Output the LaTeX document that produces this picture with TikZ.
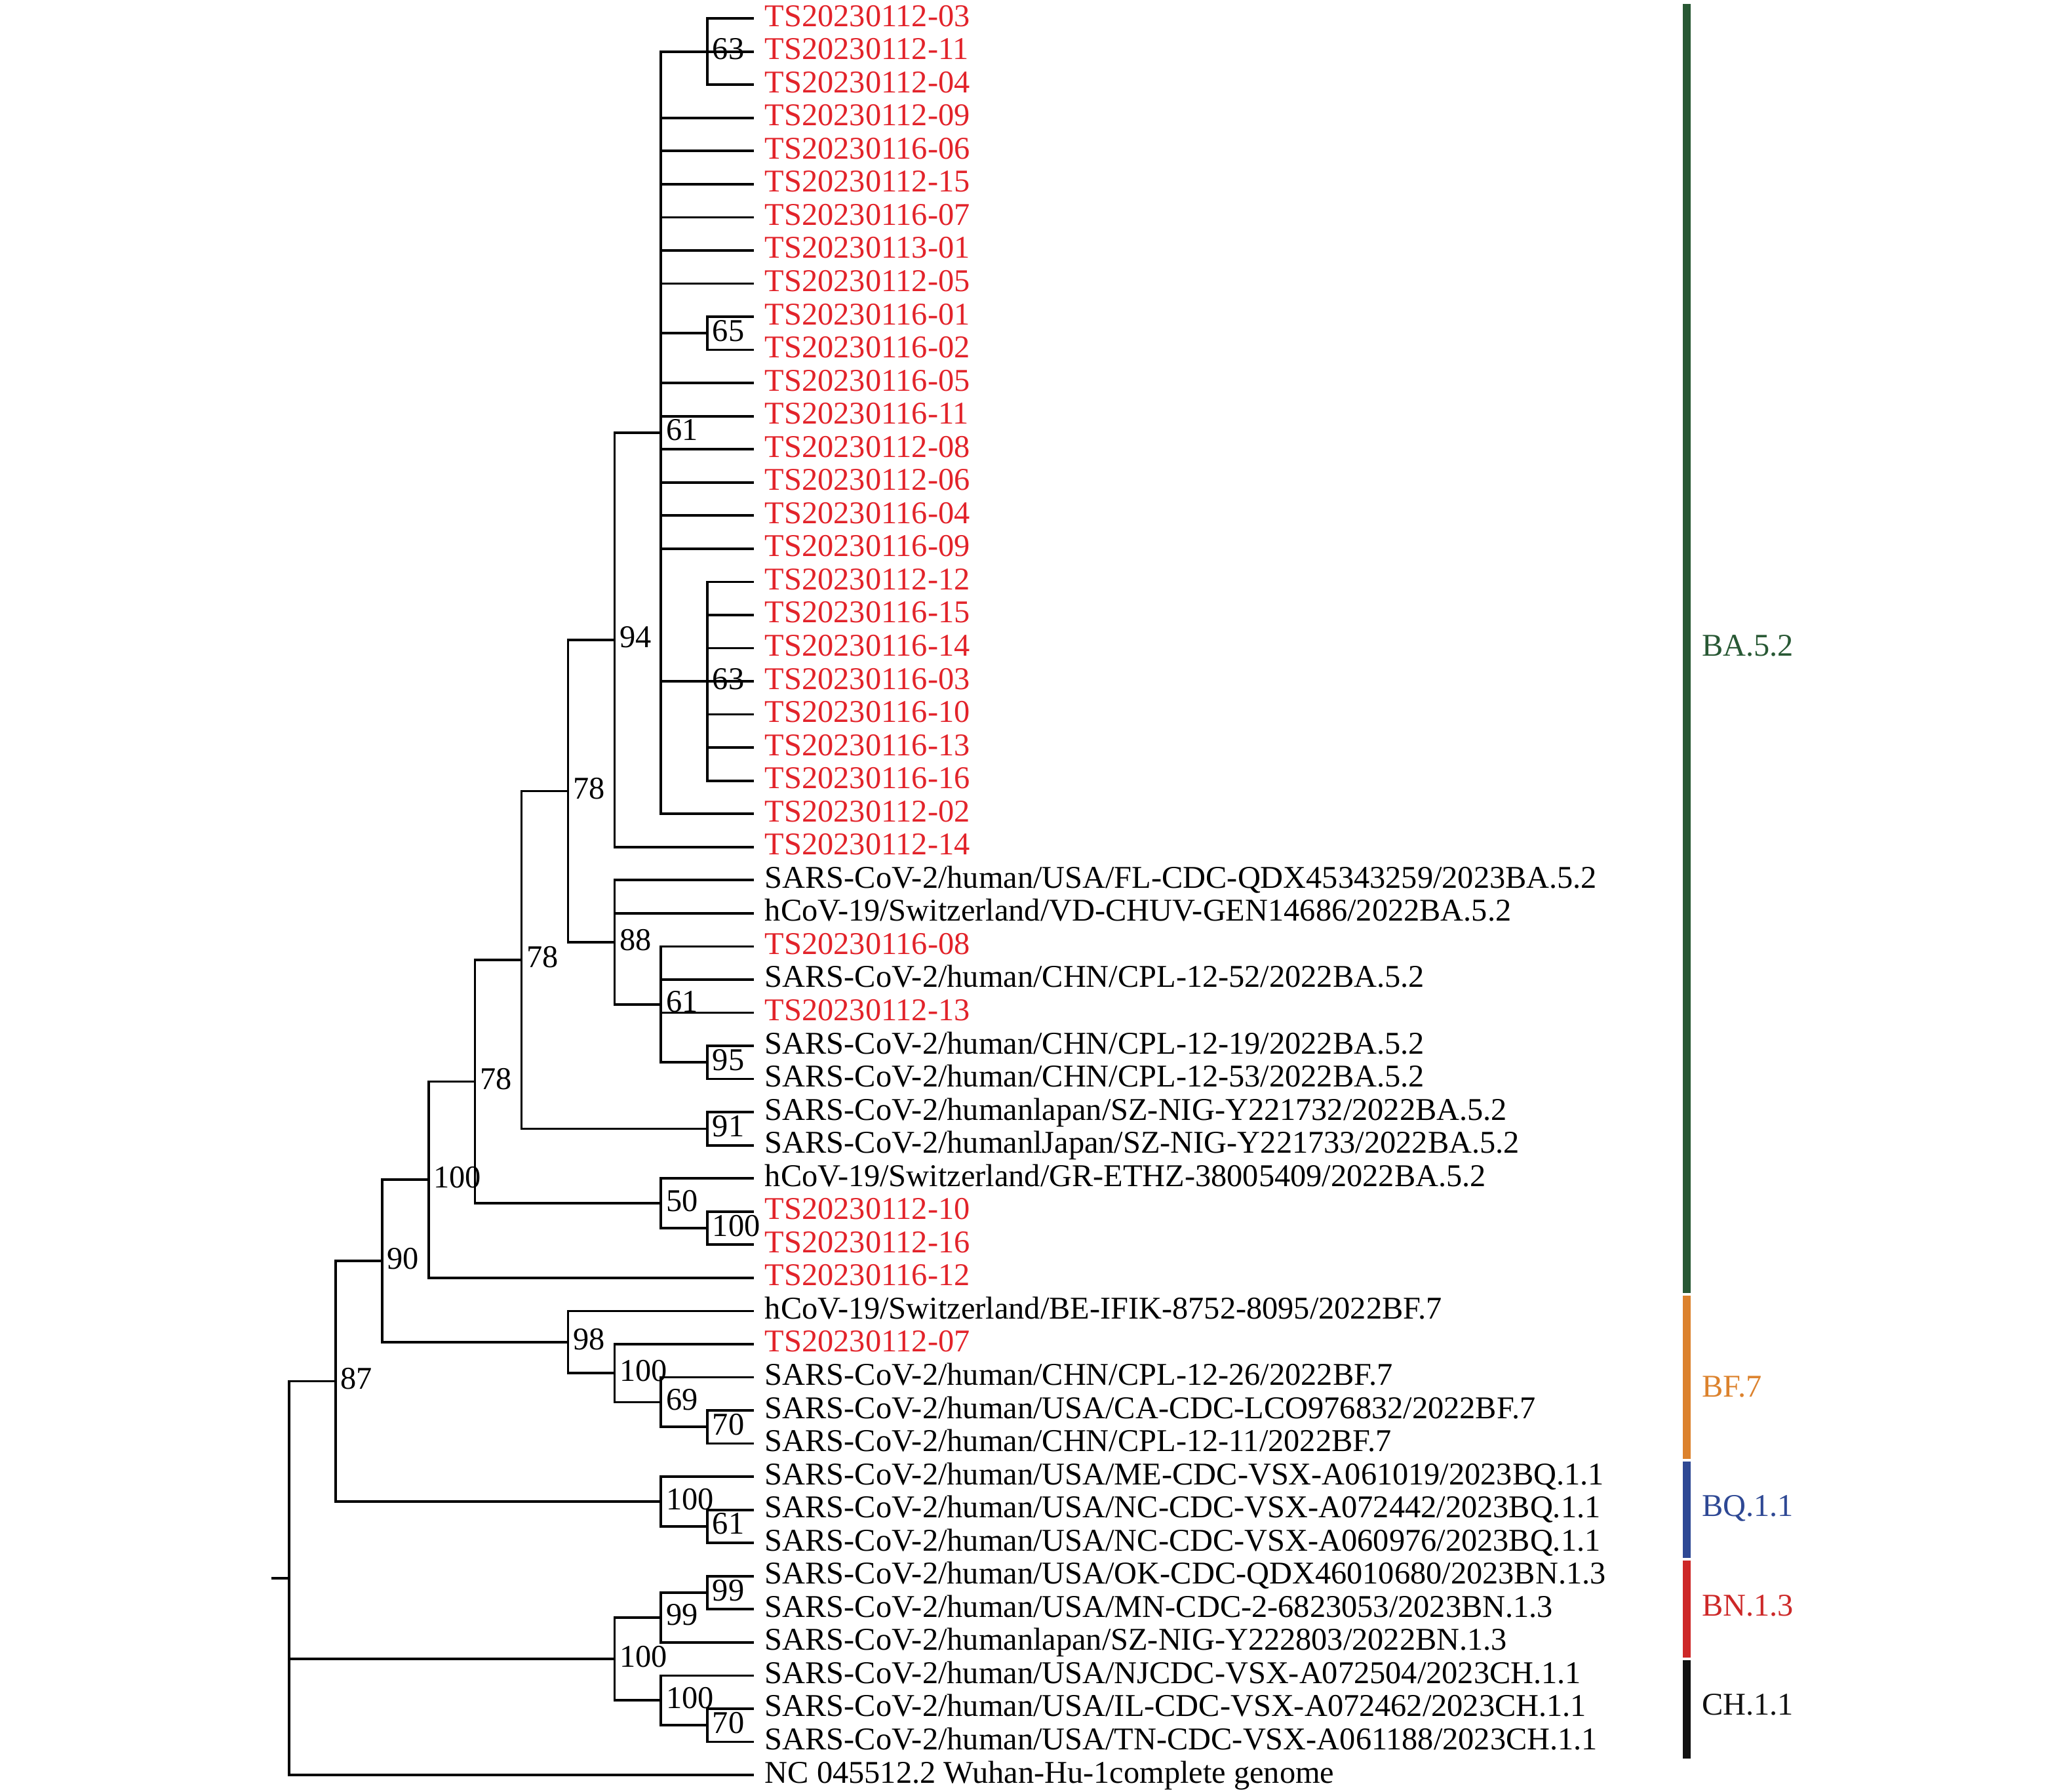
\documentclass[tikz,border=0pt]{standalone}
\usepackage{fontspec}
\setmainfont{Liberation Serif}
\definecolor{tsred}{RGB}{226,35,42}
\definecolor{bagreen}{RGB}{40,88,52}
\definecolor{bforange}{RGB}{220,130,45}
\definecolor{bqblue}{RGB}{46,72,148}
\definecolor{bnred}{RGB}{205,40,40}
\definecolor{chblack}{RGB}{17,17,17}
% y of a leaf row, x of a tree level
\newcommand\leafy[1]{14+(#1-1)*25.16}
\newcommand\lev[1]{219.5+35.3*#1}
\begin{document}
\begin{tikzpicture}[x=0.2mm,y=-0.2mm,
    font=\fontsize{13.7}{16}\selectfont,
    branch/.style={line width=1.05pt},
    tip/.style={anchor=base west,inner sep=0pt,xshift=1.6mm,yshift=-1.2mm},
    boot/.style={anchor=base west,inner sep=0pt,xshift=0.7mm,yshift=-1.2mm},
    clade/.style={anchor=west,inner sep=0pt}]
    \useasboundingbox (0,0) rectangle (1568,1360);
    % leaves
    \foreach \i in {1,...,54}
        \coordinate (l\i) at ({\lev{10}},{\leafy{\i}});
    \foreach \i/\t in {1/TS20230112-03,2/TS20230112-11,3/TS20230112-04,4/TS20230112-09,
        5/TS20230116-06,6/TS20230112-15,7/TS20230116-07,8/TS20230113-01,9/TS20230112-05,
        10/TS20230116-01,11/TS20230116-02,12/TS20230116-05,13/TS20230116-11,14/TS20230112-08,
        15/TS20230112-06,16/TS20230116-04,17/TS20230116-09,18/TS20230112-12,19/TS20230116-15,
        20/TS20230116-14,21/TS20230116-03,22/TS20230116-10,23/TS20230116-13,24/TS20230116-16,
        25/TS20230112-02,26/TS20230112-14,29/TS20230116-08,31/TS20230112-13,37/TS20230112-10,
        38/TS20230112-16,39/TS20230116-12,41/TS20230112-07}
        \node[tip,text=tsred] (t\i) at (l\i) {\t};
    \foreach \i/\t in {27/{SARS-CoV-2/human/USA/FL-CDC-QDX45343259/2023BA.5.2},
        28/{hCoV-19/Switzerland/VD-CHUV-GEN14686/2022BA.5.2},
        30/{SARS-CoV-2/human/CHN/CPL-12-52/2022BA.5.2},
        32/{SARS-CoV-2/human/CHN/CPL-12-19/2022BA.5.2},
        33/{SARS-CoV-2/human/CHN/CPL-12-53/2022BA.5.2},
        34/{SARS-CoV-2/humanlapan/SZ-NIG-Y221732/2022BA.5.2},
        35/{SARS-CoV-2/humanlJapan/SZ-NIG-Y221733/2022BA.5.2},
        36/{hCoV-19/Switzerland/GR-ETHZ-38005409/2022BA.5.2},
        40/{hCoV-19/Switzerland/BE-IFIK-8752-8095/2022BF.7},
        42/{SARS-CoV-2/human/CHN/CPL-12-26/2022BF.7},
        43/{SARS-CoV-2/human/USA/CA-CDC-LCO976832/2022BF.7},
        44/{SARS-CoV-2/human/CHN/CPL-12-11/2022BF.7},
        45/{SARS-CoV-2/human/USA/ME-CDC-VSX-A061019/2023BQ.1.1},
        46/{SARS-CoV-2/human/USA/NC-CDC-VSX-A072442/2023BQ.1.1},
        47/{SARS-CoV-2/human/USA/NC-CDC-VSX-A060976/2023BQ.1.1},
        48/{SARS-CoV-2/human/USA/OK-CDC-QDX46010680/2023BN.1.3},
        49/{SARS-CoV-2/human/USA/MN-CDC-2-6823053/2023BN.1.3},
        50/{SARS-CoV-2/humanlapan/SZ-NIG-Y222803/2022BN.1.3},
        51/{SARS-CoV-2/human/USA/NJCDC-VSX-A072504/2023CH.1.1},
        52/{SARS-CoV-2/human/USA/IL-CDC-VSX-A072462/2023CH.1.1},
        53/{SARS-CoV-2/human/USA/TN-CDC-VSX-A061188/2023CH.1.1},
        54/{NC 045512.2 Wuhan-Hu-1complete genome}}
        \node[tip] (t\i) at (l\i) {\t};
    % inner nodes: name/level/row/support
    \foreach \n/\k/\r/\s in {n63a/9/2/63,n65/9/10.5/65,n63b/9/21/63,n61a/8/13.5/61,
        n94/7/19.75/94,n95/9/32.5/95,n61b/8/30.75/61,n88/7/28.875/88,n78c/6/24.3125/78,
        n91/9/34.5/91,n78b/5/29.40625/78,n100a/9/37.5/100,n50/8/36.75/50,
        n78a/4/33.078/78,n100b/3/36.039/100,n70a/9/43.5/70,n69/8/42.75/69,
        n100c/7/41.875/100,n98/6/40.9375/98,n90/2/38.488/90,n61c/9/46.5/61,
        n100d/8/45.75/100,n87/1/42.119/87,n99b/9/48.5/99,n99a/8/49.25/99,
        n70b/9/52.5/70,n100e/8/51.75/100,n100f/7/50.5/100} {
        \coordinate (\n) at ({\lev{\k}},{\leafy{\r}});
        \node[boot] (b\n) at (\n) {\s};
    }
    \coordinate (root) at ({\lev{0}},{\leafy{48.06}});
    \coordinate (stub) at (206,{\leafy{48.06}});
    \draw[branch] (stub) -- (root);
    % branches
    \foreach \p/\cs in {n63a/{l1,l2,l3},n65/{l10,l11},n63b/{l18,l19,l20,l21,l22,l23,l24},
        n61a/{n63a,l4,l5,l6,l7,l8,l9,n65,l12,l13,l14,l15,l16,l17,n63b,l25},
        n94/{n61a,l26},n95/{l32,l33},n61b/{l29,l30,l31,n95},n88/{l27,l28,n61b},
        n78c/{n94,n88},n91/{l34,l35},n78b/{n78c,n91},n100a/{l37,l38},n50/{l36,n100a},
        n78a/{n78b,n50},n100b/{n78a,l39},n70a/{l43,l44},n69/{l42,n70a},n100c/{l41,n69},
        n98/{l40,n100c},n90/{n100b,n98},n61c/{l46,l47},n100d/{l45,n61c},n87/{n90,n100d},
        n99b/{l48,l49},n99a/{n99b,l50},n70b/{l52,l53},n100e/{l51,n70b},
        n100f/{n99a,n100e},root/{n87,n100f,l54}}
        \foreach \c in \cs
            \draw[branch] (\p) |- (\c);
    % lineage bars
    \fill[bagreen] (1278,3) rectangle (1284,{\leafy{39.5}-1});
    \fill[bforange] (1278,{\leafy{39.5}+1}) rectangle (1284,{\leafy{44.5}-1});
    \fill[bqblue] (1278,{\leafy{44.5}+1}) rectangle (1284,{\leafy{47.5}-1});
    \fill[bnred] (1278,{\leafy{47.5}+1}) rectangle (1284,{\leafy{50.5}-1});
    \fill[chblack] (1278,{\leafy{50.5}+1}) rectangle (1284,{\leafy{53.5}});
    \node[clade,text=bagreen] (cBA) at (1292,490) {BA.5.2};
    \node[clade,text=bforange] (cBF) at (1292,1053) {BF.7};
    \node[clade,text=bqblue] (cBQ) at (1292,1145) {BQ.1.1};
    \node[clade,text=bnred] (cBN) at (1292,1219) {BN.1.3};
    \node[clade,text=chblack] (cCH) at (1292,1294) {CH.1.1};
\end{tikzpicture}
\end{document}
